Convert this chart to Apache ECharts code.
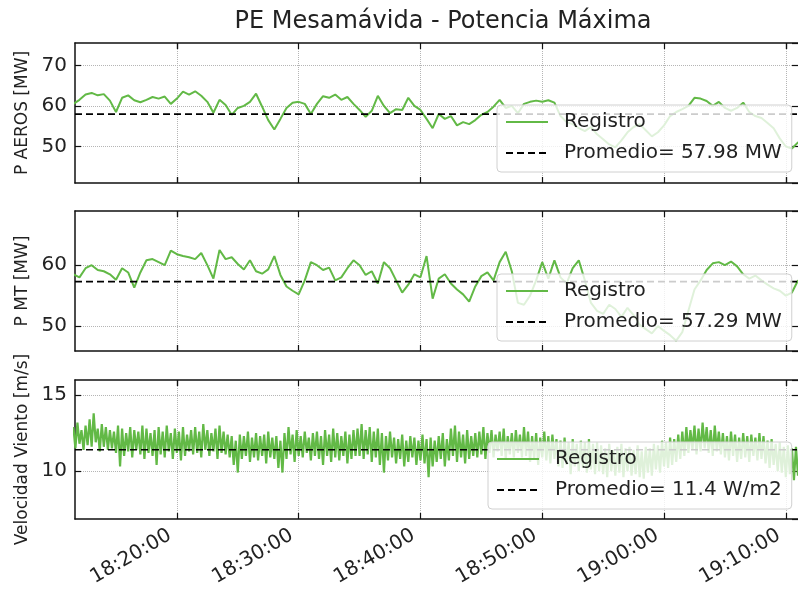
<!DOCTYPE html>
<html>
<head>
<meta charset="utf-8">
<script src="https://cdn.jsdelivr.net/npm/echarts@6/dist/echarts.min.js"></script>
<style>
html, body { margin: 0; padding: 0; background: #fff; }
#grafico { width: 798px; height: 590px; }
</style>
</head>
<body>
<div id="grafico"></div>
<script>
// potencia, un registro cada 30 s desde 18:11:30
var pAeros = [
    60.5, 61.5, 62.8, 63.2, 62.6, 62.9, 61.3, 58.5, 62.0, 62.6,
    61.4, 60.9, 61.5, 62.2, 61.8, 62.3, 60.5, 61.8, 63.5, 62.8,
    63.6, 62.5, 61.0, 58.3, 61.5, 60.2, 57.8, 59.5, 60.0, 61.0,
    63.0, 59.8, 56.5, 54.2, 56.8, 59.5, 60.8, 61.0, 60.5, 58.0,
    60.5, 62.4, 62.0, 62.8, 61.5, 62.2, 60.5, 59.0, 57.3, 58.8,
    62.5, 60.0, 58.2, 59.2, 59.0, 62.0, 60.0, 59.0, 56.8, 54.5,
    58.0, 56.8, 57.5, 55.2, 56.0, 55.5, 56.5, 57.8, 58.5, 59.8,
    61.5, 59.5, 60.0, 58.2, 60.5, 61.0, 61.3, 61.0, 61.4, 60.8,
    57.5, 56.0, 55.5, 54.5, 53.8, 54.8, 53.0, 51.8, 50.5, 49.8,
    51.5, 53.5, 54.8, 55.5, 54.0, 52.5, 53.5, 55.2, 57.5, 58.5,
    59.2, 60.0, 62.0, 61.8, 61.2, 60.0, 61.0, 59.5, 58.8, 59.5,
    60.8, 58.5, 57.5, 57.0, 55.8, 54.5, 52.0, 50.0, 49.5, 51.0, 50.5
];
var pMt = [
    58.5, 58.0, 59.5, 60.0, 59.2, 59.0, 58.5, 57.6, 59.5, 58.8,
    56.3, 58.8, 60.8, 61.0, 60.5, 60.0, 62.4, 61.8, 61.5, 61.3,
    61.0, 62.0, 60.0, 57.8, 62.5, 61.0, 61.3, 60.2, 59.3, 60.8,
    59.0, 58.6, 59.3, 61.5, 58.4, 56.5, 55.8, 55.2, 57.5, 60.5,
    60.0, 59.2, 59.6, 57.5, 58.0, 59.5, 60.8, 60.0, 58.4, 59.0,
    57.0, 60.5, 59.5, 57.5, 55.5, 56.8, 58.5, 58.0, 61.5, 54.5,
    57.8, 58.5, 57.0, 56.0, 55.2, 54.0, 56.5, 58.2, 58.8, 57.5,
    60.5, 62.2, 59.0, 53.8, 53.5, 55.0, 57.5, 60.5, 57.8, 60.8,
    58.0, 57.0, 59.5, 60.8, 57.5, 53.8, 52.5, 52.0, 53.5, 52.8,
    51.5, 53.0, 51.8, 50.2, 49.5, 48.8, 50.0, 49.2, 48.5, 47.6,
    49.0, 52.5, 56.0, 57.5, 59.2, 60.3, 60.5, 60.0, 60.6, 59.8,
    58.5, 57.8, 58.3, 57.5, 56.8, 56.2, 55.8, 55.0, 55.5, 57.5, 57.0
];
// viento, un registro cada 10 s desde 18:11:30
var viento = [
    12.9, 11.5, 13.2, 11.8, 12.7, 11.4, 13.0, 11.7, 13.4, 11.6, 13.8, 11.9, 12.8, 11.3, 13.1, 11.6, 12.9, 11.4, 12.7, 11.5,
    12.6, 11.2, 13.0, 10.3, 12.8, 11.0, 12.5, 11.3, 12.9, 10.9, 12.7, 11.4, 12.6, 11.1, 13.0, 10.8, 12.8, 11.2, 12.5, 11.0,
    12.7, 10.4, 12.9, 11.1, 12.6, 10.9, 13.0, 11.3, 12.5, 10.8, 12.8, 11.2, 12.6, 10.7, 12.9, 11.0, 12.4, 11.3, 12.7, 11.1,
    12.9, 11.2, 12.6, 10.9, 13.1, 11.4, 12.7, 11.0, 12.5, 11.3, 12.8, 10.8, 13.0, 11.2, 12.6, 11.1, 12.4, 10.9, 12.3, 10.4,
    12.0, 9.9, 12.4, 10.8, 12.3, 11.0, 12.6, 10.6, 12.2, 10.9, 12.5, 10.7, 12.3, 11.0, 12.4, 10.5, 12.6, 10.9, 12.2, 10.8,
    12.3, 10.2, 12.0, 9.9, 12.5, 10.8, 12.9, 11.1, 12.4, 10.6, 12.7, 11.0, 12.3, 10.9, 12.6, 11.2, 12.2, 10.7, 12.5, 11.0,
    12.6, 10.8, 12.3, 10.4, 12.7, 11.0, 12.4, 10.6, 12.8, 10.9, 12.5, 10.7, 12.3, 11.0, 12.6, 10.5, 12.4, 10.8, 12.7, 11.0,
    12.8, 11.0, 13.1, 10.8, 12.7, 11.1, 12.9, 10.6, 12.6, 10.9, 12.8, 10.4, 12.5, 9.9, 12.3, 10.7, 12.6, 10.9, 12.2, 10.5,
    12.1, 10.8, 12.4, 10.3, 12.0, 10.6, 12.3, 10.9, 12.2, 10.4, 12.0, 10.7, 12.4, 10.5, 12.1, 9.6, 12.2, 10.3, 12.0, 10.6,
    12.3, 10.8, 12.5, 10.3, 12.1, 10.7, 12.8, 11.0, 13.0, 10.6, 12.6, 10.9, 12.4, 10.5, 12.7, 10.8, 12.3, 11.0, 12.5, 10.9,
    12.6, 11.1, 12.9, 10.8, 12.5, 11.2, 12.7, 10.9, 12.4, 11.3, 12.6, 11.0, 12.8, 10.8, 12.3, 11.1, 12.5, 10.9, 12.7, 11.2,
    12.4, 10.9, 12.9, 11.0, 12.6, 10.6, 12.3, 10.8, 12.5, 10.4, 12.2, 10.9, 12.6, 10.7, 12.3, 10.5, 12.4, 10.8, 12.1, 10.3,
    12.0, 10.2, 12.2, 10.4, 11.9, 9.8, 12.1, 10.3, 11.8, 10.0, 12.0, 10.2, 11.9, 9.9, 12.1, 10.1, 11.8, 9.8, 11.9, 10.0,
    11.7, 9.8, 11.5, 9.6, 11.8, 10.0, 11.4, 9.7, 11.6, 9.9, 11.8, 9.6, 11.5, 10.0, 11.6, 9.7, 11.4, 9.8, 11.7, 9.6,
    11.3, 9.5, 11.6, 9.9, 11.5, 9.7, 11.8, 10.1, 11.7, 9.9, 12.0, 10.3, 11.9, 10.2, 12.2, 10.4, 12.1, 10.6, 12.4, 10.8,
    12.6, 11.0, 12.9, 11.2, 12.7, 11.4, 13.0, 11.1, 12.8, 11.3, 13.2, 11.5, 12.9, 11.2, 12.7, 11.0, 13.0, 11.3, 12.6, 11.1,
    12.5, 10.9, 12.3, 10.7, 12.6, 11.0, 12.4, 10.6, 12.2, 10.8, 12.5, 10.9, 12.3, 10.6, 12.4, 11.0, 12.2, 10.7, 12.5, 10.8,
    12.3, 10.5, 12.0, 10.2, 12.1, 10.4, 11.8, 10.0, 11.9, 9.9, 11.6, 9.6, 11.7, 9.8, 11.5, 9.4, 11.6, 9.7, 11.3, 9.5,
    10.2
];
var promedios = [57.98, 57.29, 11.4];
var etiquetasProm = ['Promedio= 57.98 MW', 'Promedio= 57.29 MW', 'Promedio= 11.4 W/m2'];
var nombresY = ['P AEROS [MW]', 'P MT [MW]', 'Velocidad Viento [m/s]'];
var limitesY = [[41, 75.5], [45.9, 68.9], [6.84, 16]];
var divisionesY = [3, 2, 2];
var pasos = [30, 30, 10];

function hora(h, m, s) { return new Date(2023, 0, 1, h, m, s).getTime(); }
var inicio = hora(18, 11, 30);
var xMin = hora(18, 11, 38);
var xMax = hora(19, 11, 0);
// marcas del eje de tiempo
var horasMarca = [hora(18, 20, 0), hora(18, 30, 0), hora(18, 40, 0), hora(18, 50, 0), hora(19, 0, 0), hora(19, 10, 0)];

function serieTiempo(valores, paso) {
    return valores.map(function (v, i) { return [inicio + i * paso * 1000, v]; });
}
var datos = [serieTiempo(pAeros, pasos[0]), serieTiempo(pMt, pasos[1]), serieTiempo(viento, pasos[2])];

var verde = '#62b946';
var fuente = 'DejaVu Sans';
// el marco derecho queda en el borde de la imagen, como en el original
var grillas = [
    { left: 75, right: 0, top: 43, height: 140 },
    { left: 75, right: 0, top: 211, height: 140 },
    { left: 75, right: 0, top: 380, height: 139 }
];
var posLeyenda = [[497, 105], [497, 274], [488, 442]];

var ejesX = [], ejesY = [], series = [], leyendas = [];
var punteado = { show: true, showMinLine: false, showMaxLine: false, lineStyle: { type: 'dotted', color: '#b5b5b5', width: 1 } };
var lineaEje = { show: true, lineStyle: { color: '#111', width: 1.5 } };
var marca = { show: true, inside: true, length: 6, lineStyle: { color: '#111', width: 1.2 } };
var marcaX = { show: true, inside: true, length: 6, customValues: horasMarca, lineStyle: { color: '#111', width: 1.2 } };

for (var k = 0; k < 3; k++) {
    ejesX.push({
        type: 'time', gridIndex: k, min: xMin, max: xMax,
        axisLine: lineaEje, axisTick: marcaX, splitLine: punteado,
        axisLabel: {
            show: k === 2, rotate: 30, margin: 11, padding: [0, 8, 0, 0],
            fontSize: 20, color: '#222', fontFamily: fuente,
            customValues: horasMarca, formatter: '{HH}:{mm}:{ss}', hideOverlap: false
        }
    });
    ejesY.push({
        type: 'value', gridIndex: k, min: limitesY[k][0], max: limitesY[k][1],
        splitNumber: divisionesY[k], scale: true,
        name: nombresY[k], nameLocation: 'middle', nameRotate: 90, nameGap: 40,
        nameTextStyle: { fontSize: 17, color: '#222', fontFamily: fuente },
        axisLine: lineaEje, axisTick: marca, splitLine: punteado,
        axisLabel: { fontSize: 20, color: '#222', fontFamily: fuente, margin: 8, showMinLabel: false, showMaxLabel: false }
    });
    series.push({
        name: 'Registro', type: 'line', xAxisIndex: k, yAxisIndex: k,
        data: datos[k], symbol: 'none', color: verde,
        lineStyle: { width: k === 2 ? 2.2 : 2, color: verde }, z: 2
    });
    series.push({
        name: etiquetasProm[k], type: 'line', xAxisIndex: k, yAxisIndex: k,
        data: [[xMin, promedios[k]], [xMax, promedios[k]]], symbol: 'none', color: '#000',
        lineStyle: { width: 1.6, type: [7, 4], color: '#000' }, z: 3
    });
    leyendas.push({
        orient: 'vertical', left: posLeyenda[k][0], top: posLeyenda[k][1],
        data: ['Registro', etiquetasProm[k]],
        itemWidth: 42, itemHeight: 14, itemGap: 11,
        padding: [7, 10, 9, 8],
        itemStyle: { opacity: 0 },
        lineStyle: { width: 2 },
        backgroundColor: 'rgba(255,255,255,0.8)', borderColor: '#d0d0d0', borderWidth: 1, borderRadius: 4,
        textStyle: { fontSize: 20, color: '#222', fontFamily: fuente, padding: [0, 0, 0, 11] },
        selectedMode: false, z: 10
    });
}
// ejes espejo: marcas arriba y a la derecha (sin línea a la derecha)
for (var k = 0; k < 3; k++) {
    ejesX.push({
        type: 'time', gridIndex: k, position: 'top', min: xMin, max: xMax,
        axisLine: lineaEje, axisTick: marcaX, splitLine: { show: false },
        axisLabel: { show: false, customValues: horasMarca }
    });
    ejesY.push({
        type: 'value', gridIndex: k, position: 'right', min: limitesY[k][0], max: limitesY[k][1],
        splitNumber: divisionesY[k],
        axisLine: { show: false }, axisTick: marca, splitLine: { show: false }, axisLabel: { show: false }
    });
}

var grafico = echarts.init(document.getElementById('grafico'));
grafico.setOption({
    animation: false,
    backgroundColor: '#fff',
    title: {
        text: 'PE Mesamávida - Potencia Máxima', left: 438, top: 5, textAlign: 'center',
        textStyle: { fontSize: 24, fontWeight: 'normal', color: '#222', fontFamily: fuente }
    },
    grid: grillas,
    xAxis: ejesX,
    yAxis: ejesY,
    legend: leyendas,
    series: series
});
</script>
</body>
</html>
